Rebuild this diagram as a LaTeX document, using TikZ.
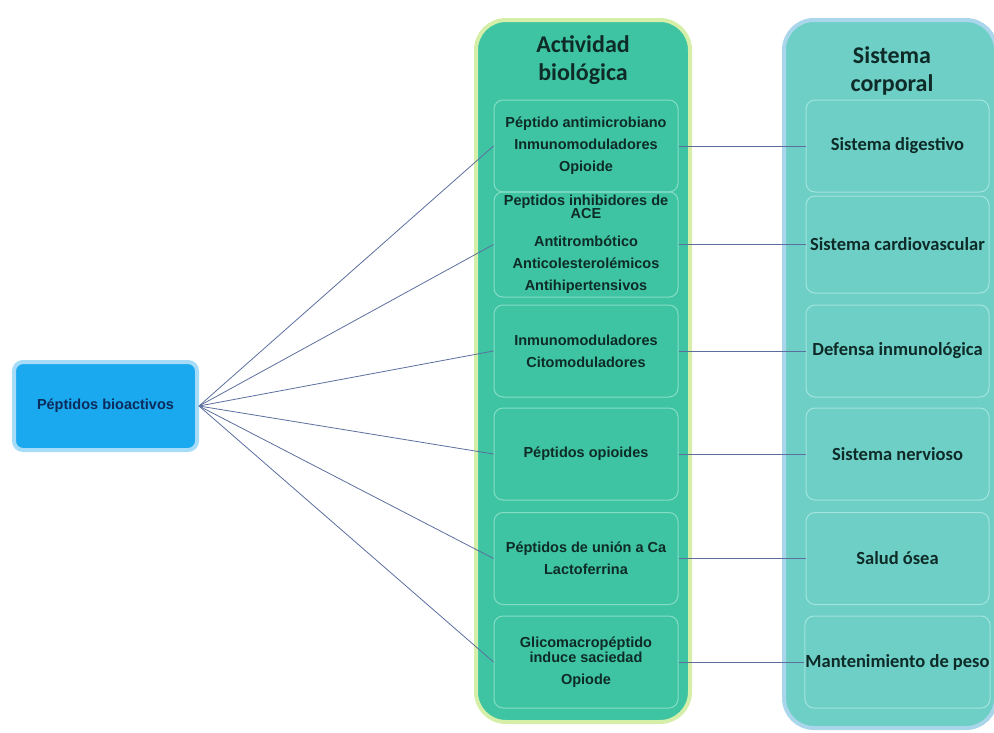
\documentclass[tikz,border=0pt]{standalone}
\usepackage{fontspec}
\setmainfont{Liberation Sans}
\newfontfamily\carlito{Carlito}
\definecolor{srcblue}{HTML}{1AA8EE}
\definecolor{srcglow}{HTML}{A6DCF8}
\definecolor{actfill}{HTML}{3EC4A2}
\definecolor{actglow}{HTML}{D6EFA8}
\definecolor{actline}{HTML}{86DDC6}
\definecolor{sysfill}{HTML}{6ECFC6}
\definecolor{sysglow}{HTML}{A9D6EA}
\definecolor{sysline}{HTML}{A2E4DE}
\definecolor{txtdark}{HTML}{0E2B28}
\definecolor{txtnavy}{HTML}{0C2C5C}
\definecolor{linkblue}{HTML}{5C6E9E}
\begin{document}
\begin{tikzpicture}[x=1pt,y=-1pt,
  colbox/.style={draw=#1, line width=4pt, rounded corners=30pt},
  actbox/.style={draw=actline, line width=1pt, rounded corners=9pt, minimum width=184pt, minimum height=92pt, align=center, text=txtdark, font=\bfseries\fontsize{14.5}{22}\selectfont},
  sysbox/.style={draw=sysline, line width=1pt, rounded corners=9pt, inner sep=0.5pt, minimum width=183pt, minimum height=92pt, align=center, text=txtdark, font=\carlito\bfseries\fontsize{18.5}{22}\selectfont},
  headtxt/.style={align=center, text=txtdark, font=\carlito\bfseries\fontsize{24}{28}\selectfont},
  link/.style={draw=linkblue, line width=0.8pt}]
\useasboundingbox (0,0) rectangle (994,732);
\node[colbox=actglow, fill=actfill, minimum width=214pt, minimum height=702pt] (actcol) at (583,371){};
\node[colbox=sysglow, fill=sysfill, minimum width=212pt, minimum height=708pt] (syscol) at (890,374){};
\node[headtxt] (acthead) at (583,60){Actividad\\biológica};
\node[headtxt] (syshead) at (892,71){Sistema\\corporal};
\node[draw=srcglow, line width=4pt, fill=srcblue, rounded corners=9pt, minimum width=183pt, minimum height=88pt, text=txtnavy, font=\bfseries\fontsize{14.5}{18}\selectfont] (src) at (105.5,406){Péptidos bioactivos};
\node[actbox] (act1) at (586,146){Péptido antimicrobiano\\Inmunomoduladores\\Opioide};
\node[actbox, minimum height=97pt] (act2) at (586,244.5){Peptidos inhibidores de\\[-9pt]ACE\\[6pt]Antitrombótico\\Anticolesterolémicos\\Antihipertensivos};
\node[actbox] (act3) at (586,351){Inmunomoduladores\\Citomoduladores};
\node[actbox] (act4) at (586,454){Péptidos opioides};
\node[actbox] (act5) at (586,558.5){Péptidos de unión a Ca\\Lactoferrina};
\node[actbox] (act6) at (586,662){Glicomacropéptido\\[-7pt]induce saciedad\\Opiode};
\node[sysbox] (sys1) at (897.5,146){Sistema digestivo};
\node[sysbox, minimum height=97pt] (sys2) at (897.5,244.5){Sistema cardiovascular};
\node[sysbox] (sys3) at (897.5,351){Defensa inmunológica};
\node[sysbox] (sys4) at (897.5,454){Sistema nervioso};
\node[sysbox] (sys5) at (897.5,558.5){Salud ósea};
\node[sysbox] (sys6) at (897.5,662){Mantenimiento de peso};
\foreach \i in {1,...,6}{
  \draw[link] (src.east) -- (act\i.west);
  \draw[link] (act\i.east) -- (sys\i.west);
}
\end{tikzpicture}
\end{document}
